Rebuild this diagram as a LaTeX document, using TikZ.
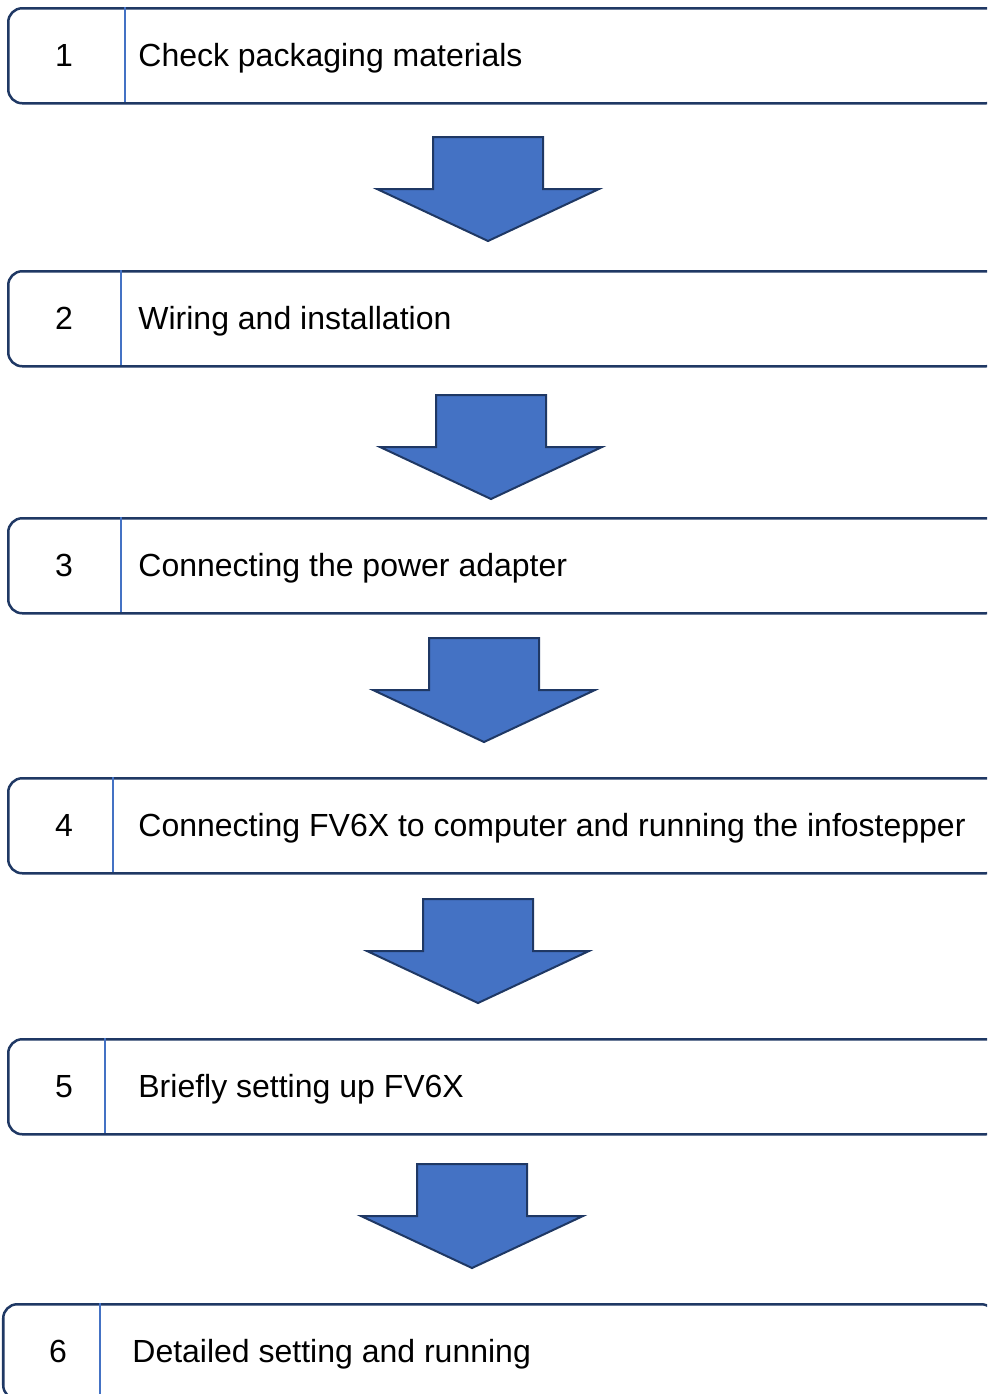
\documentclass[tikz,border=0pt]{standalone}
\usepackage{fontspec}
\setmainfont{Liberation Sans}
\usetikzlibrary{positioning}
\definecolor{cadre}{RGB}{31,56,100}
\definecolor{trait}{RGB}{68,114,196}
\definecolor{bleu}{RGB}{68,114,196}
\tikzset{
  stepbox/.style={draw=cadre,line width=1.25pt,rounded corners=7pt,
    minimum width=496pt,minimum height=47.5pt,inner sep=0pt,anchor=north west},
  numlab/.style={font=\fontsize{16}{19}\selectfont,anchor=base,inner sep=0pt},
  steplab/.style={font=\fontsize{16}{19}\selectfont,anchor=base west,inner sep=0pt},
  fleche/.style={fill=bleu,draw=cadre,line width=1pt},
}

\begin{document}
\begin{tikzpicture}[x=0.5pt,y=-0.5pt]
  \useasboundingbox (0,0) rectangle (987,1394);
  \clip (0,0) rectangle (987,1394);
  % steps: left, top, divider, number x, text x
  \foreach \i/\l/\t/\d/\n/\x/\lab in {
      1/7/7/125/64/138/{Check packaging materials},
      2/7/270/121/64/138/{Wiring and installation},
      3/7/517/121/64/138/{Connecting the power adapter},
      4/7/777/113/64/138/{Connecting FV6X to computer and running the infostepper},
      5/7/1038/105/64/138/{Briefly setting up FV6X},
      6/2/1303/100/58/132/{Detailed setting and running}}{
    \node[stepbox] (s\i) at (\l,\t) {};
    \draw[trait,line width=1pt] (\d,\t) -- (\d,{\t+95});
    \node[numlab] (n\i) at (\n,{\t+59}) {\i};
    \node[steplab] (t\i) at (\x,{\t+59}) {\lab};
  }
  % block arrows: tip x, top
  \foreach \a/\h in {488/137,491/395,484/638,478/899,472/1164}
    \filldraw[fleche] ({\a-55},\h) -- ({\a+55},\h) -- ({\a+55},{\h+52})
      -- ({\a+111},{\h+52}) -- (\a,{\h+104}) -- ({\a-111},{\h+52})
      -- ({\a-55},{\h+52}) -- cycle;
\end{tikzpicture}
\end{document}
